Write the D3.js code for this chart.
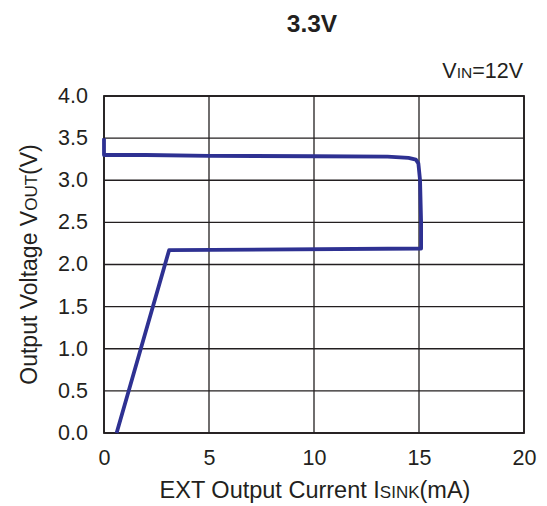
<!DOCTYPE html>
<html>
<head>
<meta charset="utf-8">
<script src="https://cdn.jsdelivr.net/npm/d3@7"></script>
<style>
  body { margin: 0; background: #fff; }
  text { font-family: "Liberation Sans", Arial, sans-serif; fill: #231f20; }
</style>
</head>
<body>
<div id="chart"></div>
<script>
// sink current (mA) vs output voltage (V)
const currentMA = [0, 0, 2, 5, 10, 13.5, 14.5, 14.85, 14.97, 15.05, 15.1, 15.1, 3.1, 0.6];
const voltageV  = [3.5, 3.3, 3.3, 3.29, 3.285, 3.28, 3.265, 3.245, 3.2, 3.0, 2.5, 2.19, 2.17, 0];
const xTicks = [0, 5, 10, 15, 20];
const yTicks = [0, 0.5, 1, 1.5, 2, 2.5, 3, 3.5, 4];

const width = 547, height = 506,
    margin = { top: 96, left: 104, right: 23, bottom: 73 };

const svg = d3.select('#chart').append('svg')
    .attr('width', width)
    .attr('height', height);

const x = d3.scaleLinear().domain([0, 20]).range([margin.left, width - margin.right]),
    y = d3.scaleLinear().domain([0, 4]).range([height - margin.bottom, margin.top]);

// grid
svg.append('g')
    .selectAll('line')
    .data(xTicks)
    .enter().append('line')
    .attr('x1', d => x(d)).attr('x2', d => x(d))
    .attr('y1', y(0)).attr('y2', y(4))
    .attr('stroke', '#231f20').attr('stroke-width', 1.3);

svg.append('g')
    .selectAll('line')
    .data(yTicks)
    .enter().append('line')
    .attr('x1', x(0)).attr('x2', x(20))
    .attr('y1', d => y(d)).attr('y2', d => y(d))
    .attr('stroke', '#231f20').attr('stroke-width', 1.3);

svg.append('rect')
    .attr('x', x(0)).attr('y', y(4))
    .attr('width', x(20) - x(0)).attr('height', y(0) - y(4))
    .attr('fill', 'none').attr('stroke', '#231f20').attr('stroke-width', 1.8);

// axes (labels only)
const xAxis = svg.append('g')
    .attr('transform', `translate(0,${y(0)})`)
    .call(d3.axisBottom(x).tickValues(xTicks).tickSize(0).tickPadding(17).tickFormat(d3.format('d')));
const yAxis = svg.append('g')
    .attr('transform', `translate(${x(0)},0)`)
    .call(d3.axisLeft(y).tickValues(yTicks).tickSize(0).tickPadding(16).tickFormat(d3.format('.1f')));
[xAxis, yAxis].forEach(g => {
    g.select('.domain').remove();
    g.selectAll('text').attr('font-size', 21.5).attr('fill', '#231f20')
        .attr('font-family', '"Liberation Sans", Arial, sans-serif');
});
yAxis.selectAll('text').attr('dy', '0.3em');

// curve
const pts = currentMA.map((c, i) => [c, voltageV[i]]);
svg.append('path')
    .datum(pts)
    .attr('fill', 'none')
    .attr('stroke', '#2e3192')
    .attr('stroke-width', 3.8)
    .attr('stroke-linejoin', 'round')
    .attr('d', d3.line().x(d => x(d[0])).y(d => y(d[1])));

// title & labels
svg.append('text')
    .attr('x', 312).attr('y', 32)
    .attr('text-anchor', 'middle')
    .attr('font-size', 24.5).attr('font-weight', 'bold')
    .text('3.3V');

const vin = svg.append('text')
    .attr('x', 523).attr('y', 78)
    .attr('text-anchor', 'end')
    .attr('font-size', 21.5);
vin.append('tspan').text('V');
vin.append('tspan').attr('font-size', 15.5).text('IN');
vin.append('tspan').text('=12V');

const xl = svg.append('text')
    .attr('x', 315).attr('y', 498)
    .attr('text-anchor', 'middle')
    .attr('font-size', 23.5);
xl.append('tspan').text('EXT Output Current I');
xl.append('tspan').attr('font-size', 17).text('SINK');
xl.append('tspan').text('(mA)');

const yl = svg.append('text')
    .attr('transform', `translate(37,${(y(0) + y(4)) / 2}) rotate(-90)`)
    .attr('text-anchor', 'middle')
    .attr('font-size', 23);
yl.append('tspan').text('Output Voltage V');
yl.append('tspan').attr('font-size', 17).text('OUT');
yl.append('tspan').text('(V)');
</script>
</body>
</html>
